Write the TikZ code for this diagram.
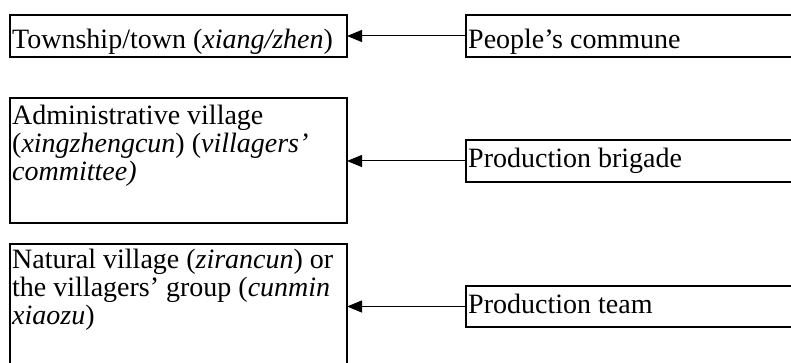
\documentclass[tikz,border=0pt]{standalone}
\usepackage{fontspec}
\setmainfont{Liberation Serif}
\usetikzlibrary{arrows.meta}
% left-aligned lines whose reference point is the first baseline
\newcommand{\linesat}[1]{\begin{tabular}[t]{@{}l@{}}#1\end{tabular}}
\begin{document}
\begin{tikzpicture}[x=1pt,y=-1pt,
  unitbox/.style={draw=black, line width=1.4pt, rectangle, inner sep=0pt,
    outer sep=0pt, anchor=north west},
  label/.style={anchor=base west, inner sep=0pt,
    font=\fontsize{28}{28}\selectfont},
  link/.style={line width=1pt, -{Triangle[length=15pt,width=12pt]}}]
  \useasboundingbox (0,0) rectangle (791,363);
  % present-day units (left column)
  \node[unitbox, minimum width=337pt, minimum height=42pt]  (l1) at (10,15) {};
  \node[unitbox, minimum width=337pt, minimum height=125pt] (l2) at (10,98) {};
  \node[unitbox, minimum width=337pt, minimum height=176pt] (l3) at (10,244) {};
  % commune-era units (right column)
  \node[unitbox, minimum width=434pt, minimum height=42pt] (r1) at (466,15) {};
  \node[unitbox, minimum width=434pt, minimum height=42pt] (r2) at (466,140) {};
  \node[unitbox, minimum width=434pt, minimum height=41pt] (r3) at (466,286) {};
  % texts
  \node[label] (t1) at (12,49) {Township/town (\textit{xiang/zhen})};
  \node[label] (t2) at (12,125) {\linesat{Administrative village\\(\textit{xingzhengcun}) (\textit{villagers'}\\\textit{committee)}}};
  \node[label] (t3) at (12,268) {\linesat{Natural village (\textit{zirancun}) or\\the villagers' group (\textit{cunmin}\\\textit{xiaozu})}};
  \node[label] (s1) at (468,49) {People's commune};
  \node[label] (s2) at (468,168) {Production brigade};
  \node[label] (s3) at (468,313) {Production team};
  % connectors
  \draw[link] (r1.west) -- (r1.west -| l1.east);
  \draw[link] (r2.west) -- (r2.west -| l2.east);
  \draw[link] (r3.west) -- (r3.west -| l3.east);
\end{tikzpicture}
\end{document}
